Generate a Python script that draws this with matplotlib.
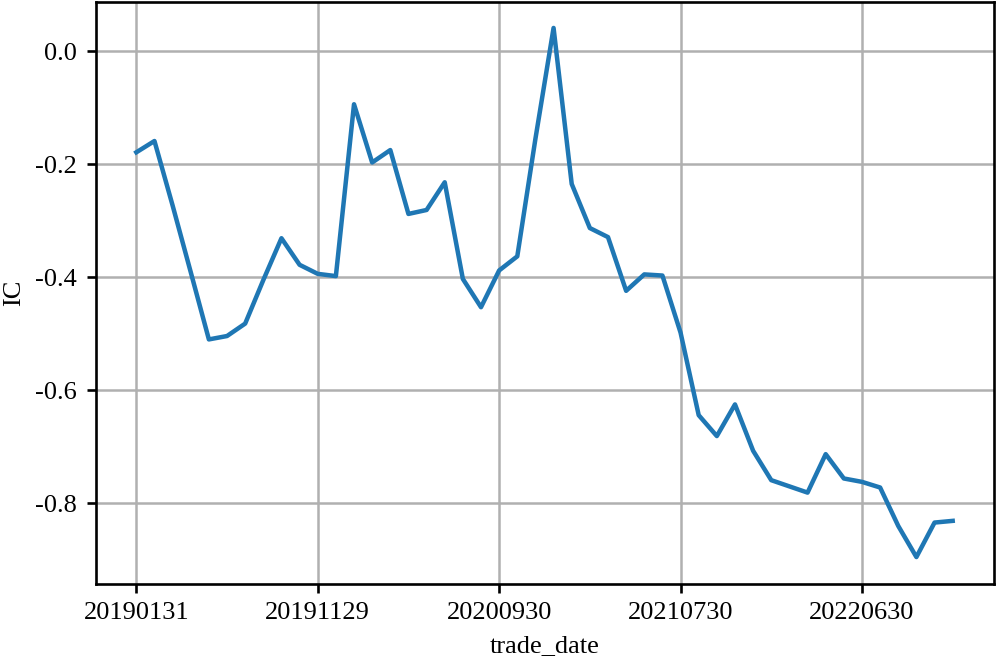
import matplotlib
matplotlib.use("Agg")
import matplotlib.pyplot as plt

trade_dates = [
    "20190131", "20190228", "20190329", "20190430", "20190531", "20190628",
    "20190731", "20190830", "20190930", "20191031", "20191129", "20191231",
    "20200123", "20200228", "20200331", "20200430", "20200529", "20200630",
    "20200731", "20200831", "20200930", "20201030", "20201130", "20201231",
    "20210129", "20210226", "20210331", "20210430", "20210531", "20210630",
    "20210730", "20210831", "20210930", "20211029", "20211130", "20211231",
    "20220128", "20220331", "20220429", "20220531", "20220630", "20220729",
    "20220831", "20220930", "20221031", "20221130",
]
ic_values = [
    -0.179, -0.159, -0.273, -0.391, -0.510, -0.504, -0.482, -0.405, -0.331, -0.378,
    -0.394, -0.398, -0.094, -0.197, -0.175, -0.288, -0.281, -0.232, -0.403, -0.453,
    -0.388, -0.363, -0.155, 0.041, -0.235, -0.313, -0.329, -0.424, -0.395, -0.397,
    -0.498, -0.644, -0.681, -0.625, -0.707, -0.759, -0.770, -0.781, -0.713, -0.756,
    -0.762, -0.772, -0.840, -0.895, -0.834, -0.831,
]

plt.rcParams["font.family"] = ["Liberation Serif", "DejaVu Serif"]
plt.rcParams["axes.unicode_minus"] = False
plt.rcParams["axes.linewidth"] = 1.0
plt.rcParams["xtick.major.width"] = 1.0
plt.rcParams["ytick.major.width"] = 1.0

DPI = 190
fig = plt.figure(figsize=(996 / DPI, 662 / DPI), dpi=DPI)
ax = fig.add_axes([95.5 / 996, 1 - 583.5 / 662, (993.5 - 95.5) / 996, (583.5 - 1.5) / 662])

x = list(range(len(trade_dates)))
ax.plot(x, ic_values, color="#1f77b4", linewidth=1.7)
ax.set_xticks(x[::10])
ax.set_xticklabels(trade_dates[::10])
ax.grid(True, color="#b0b0b0", linewidth=0.95)
ax.set_axisbelow(True)
ax.set_xlabel("trade_date")
ax.set_ylabel("IC")

fig.savefig("out.png", dpi=DPI)
